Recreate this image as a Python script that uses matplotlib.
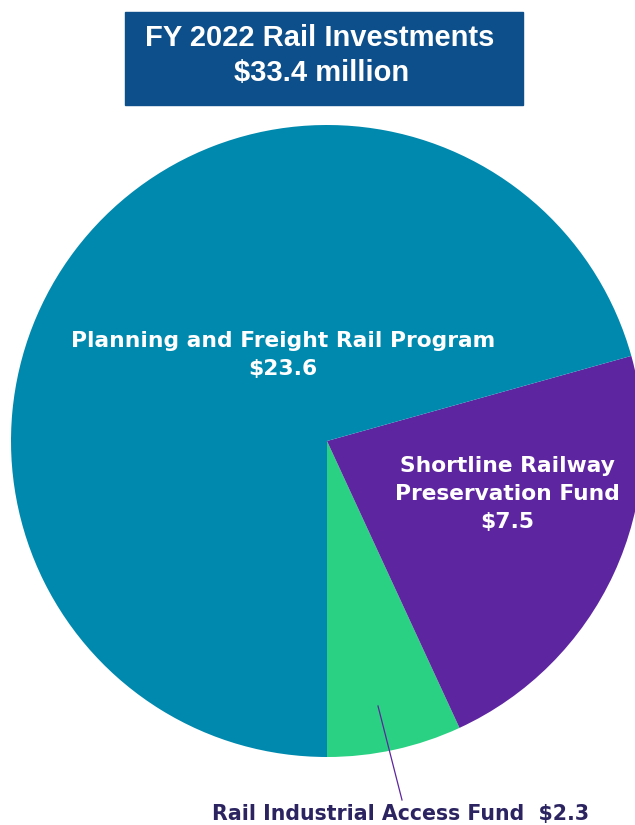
import matplotlib.pyplot as plt
from matplotlib.patches import Rectangle

# 数据
names = ['Rail Industrial Access Fund', 'Shortline Railway\nPreservation Fund', 'Planning and Freight Rail Program']
values = [2.3, 7.5, 23.6]
colors = ['#2AD183', '#5E25A0', '#0089AE']
title_lines = ['FY 2022 Rail Investments', '$33.4 million']

W, H = 635, 825
fig = plt.figure(figsize=(W / 100, H / 100), dpi=100)
ax = fig.add_axes([0, 0, 1, 1])

# 饼图（像素坐标，y 轴向上）
cx, cy, r = 327, H - 441, 316
ax.pie(values, colors=colors, startangle=-90, counterclock=True,
       center=(cx, cy), radius=r, frame=True,
       wedgeprops=dict(linewidth=0))
ax.set_xlim(0, W)
ax.set_ylim(0, H)
ax.set_aspect('equal')
ax.axis('off')

# 标题框
ax.add_patch(Rectangle((125, H - 105), 398, 93, color='#0D4F8A', zorder=5))
ax.text(320, H - 38, title_lines[0], ha='center', va='center', color='white',
        fontsize=21, fontweight='bold', family='Liberation Sans', zorder=6)
ax.text(322, H - 73, title_lines[1], ha='center', va='center', color='white',
        fontsize=21, fontweight='bold', family='Liberation Sans', zorder=6)

lab_font = dict(fontweight='bold', family='DejaVu Sans')
ax.text(283, H - 355, f'{names[2]}\n${values[2]}', ha='center', va='center',
        color='white', linespacing=1.5, fontsize=15.7, **lab_font)
ax.text(507, H - 494, f'{names[1]}\n${values[1]}', ha='center', va='center',
        color='white', linespacing=1.5, fontsize=15.7, **lab_font)

# 小扇区的引线和标签
ax.plot([378, 402], [H - 706, H - 800], color='#5E25A0', lw=0.9)
ax.text(401, H - 814, f'{names[0]}  ${values[0]}', ha='center', va='center',
        color='#2B2461', fontsize=14.8, **lab_font)

fig.savefig('out.png', dpi=100)
